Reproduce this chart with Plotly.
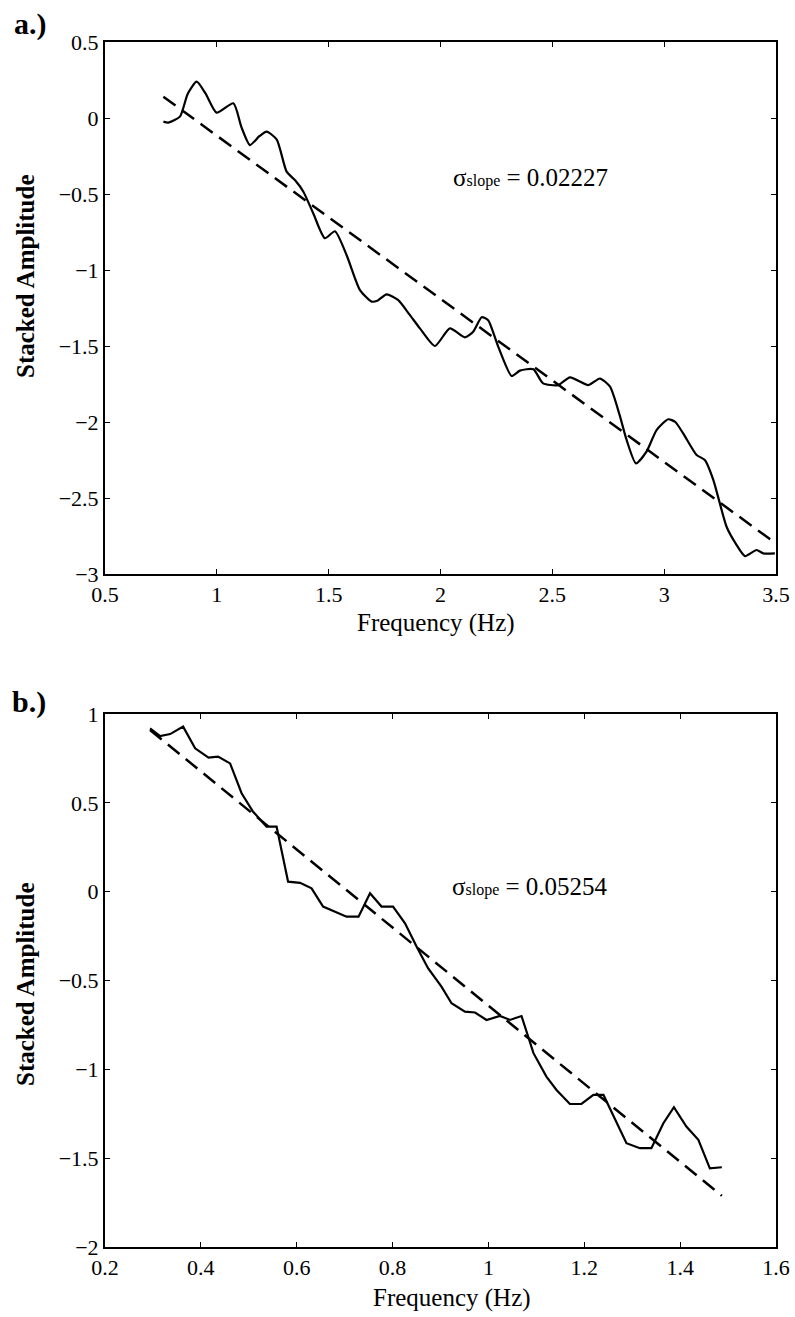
import plotly.graph_objects as go

# ---- Panel a data ----
a_freq = [0.761, 0.783, 0.835, 0.87, 0.91, 0.95, 0.999, 1.074, 1.11, 1.148, 1.19, 1.223, 1.268,
          1.312, 1.35, 1.387, 1.431, 1.483, 1.528, 1.58, 1.64, 1.692, 1.72, 1.759, 1.81, 1.86,
          1.908, 1.975, 2.042, 2.109, 2.146, 2.184, 2.213, 2.258, 2.318, 2.355, 2.415, 2.459,
          2.526, 2.579, 2.661, 2.713, 2.758, 2.8, 2.832, 2.874, 2.921, 2.966, 3.018, 3.05, 3.085,
          3.145, 3.182, 3.22, 3.279, 3.32, 3.361, 3.413, 3.443, 3.495]
a_amp = [-0.024, -0.03, 0.009, 0.16, 0.239, 0.16, 0.035, 0.097, -0.06, -0.178, -0.12, -0.09, -0.142,
         -0.353, -0.41, -0.485, -0.627, -0.791, -0.745, -0.901, -1.132, -1.208, -1.2, -1.16, -1.197, -1.29,
         -1.384, -1.5, -1.384, -1.443, -1.407, -1.311, -1.33, -1.504, -1.697, -1.662, -1.653, -1.746,
         -1.757, -1.706, -1.757, -1.714, -1.768, -1.95, -2.118, -2.272, -2.195, -2.053, -1.982, -2.0, -2.075,
         -2.217, -2.25, -2.382, -2.689, -2.8, -2.882, -2.842, -2.864, -2.864]
a_fit_x = [0.761, 3.495]
a_fit_y = [0.14, -2.794]
a_label = "σ<span style='font-size:16px'>slope</span> = 0.02227"

# ---- Panel b data ----
b_freq = [0.294, 0.315, 0.336, 0.363, 0.388, 0.416, 0.436, 0.461, 0.485, 0.509, 0.537, 0.558,
          0.582, 0.607, 0.631, 0.655, 0.704, 0.729, 0.753, 0.777, 0.801, 0.826, 0.85, 0.874,
          0.902, 0.923, 0.951, 0.972, 0.996, 1.024, 1.045, 1.069, 1.094, 1.121, 1.142, 1.17,
          1.194, 1.219, 1.24, 1.264, 1.288, 1.316, 1.34, 1.365, 1.387, 1.413, 1.438, 1.462, 1.487]
b_amp = [0.919, 0.876, 0.887, 0.929, 0.807, 0.754, 0.76, 0.722, 0.554, 0.45, 0.366, 0.366,
         0.056, 0.05, 0.019, -0.084, -0.141, -0.141, -0.009, -0.084, -0.084, -0.178, -0.309, -0.431,
         -0.535, -0.628, -0.675, -0.68, -0.722, -0.7, -0.722, -0.7, -0.909, -1.041, -1.116, -1.195,
         -1.195, -1.144, -1.144, -1.285, -1.416, -1.444, -1.444, -1.303, -1.213, -1.322, -1.397, -1.557, -1.551]
b_fit_x = [0.294, 1.487]
b_fit_y = [0.91, -1.712]
b_label = "σ<span style='font-size:16px'>slope</span> = 0.05254"

a_xticks = [0.5, 1, 1.5, 2, 2.5, 3, 3.5]
a_yticks = [0.5, 0, -0.5, -1, -1.5, -2, -2.5, -3]
b_xticks = [0.2, 0.4, 0.6, 0.8, 1, 1.2, 1.4, 1.6]
b_yticks = [1, 0.5, 0, -0.5, -1, -1.5, -2]

SERIF = "Liberation Serif"
W, H = 795, 1317

fig = go.Figure()
fig.add_trace(go.Scatter(x=a_freq, y=a_amp, mode="lines",
                         line=dict(color="black", width=2.2, shape="spline", smoothing=0.6),
                         xaxis="x", yaxis="y", showlegend=False))
fig.add_trace(go.Scatter(x=a_fit_x, y=a_fit_y, mode="lines",
                         line=dict(color="black", width=2.5, dash="15px,8px"),
                         xaxis="x", yaxis="y", showlegend=False))
fig.add_trace(go.Scatter(x=b_freq, y=b_amp, mode="lines", line=dict(color="black", width=2.2),
                         xaxis="x2", yaxis="y2", showlegend=False))
fig.add_trace(go.Scatter(x=b_fit_x, y=b_fit_y, mode="lines",
                         line=dict(color="black", width=2.5, dash="15px,8px"),
                         xaxis="x2", yaxis="y2", showlegend=False))

def fmt(v):
    return ("%g" % v).replace("-", "\u2212")

xdom = [105 / W, 776 / W]
ya_dom = [(H - 574) / H, (H - 42) / H]
yb_dom = [(H - 1247) / H, (H - 714) / H]

axis_common = dict(showgrid=False, zeroline=False, showline=True, linecolor="black", linewidth=2,
                   mirror="ticks", ticks="inside", ticklen=5, tickwidth=1, tickcolor="black",
                   automargin=False,
                   tickfont=dict(family=SERIF, size=22, color="black"))

fig.update_layout(
    width=W, height=H, paper_bgcolor="white", plot_bgcolor="white",
    margin=dict(l=0, r=0, t=0, b=0, pad=0, autoexpand=False),
    showlegend=False,
    xaxis=dict(domain=xdom, range=[0.5, 3.5], anchor="y", tickvals=a_xticks,
               ticktext=[fmt(v) for v in a_xticks], **axis_common),
    yaxis=dict(domain=ya_dom, range=[-3, 0.5], anchor="x", tickvals=a_yticks,
               ticktext=[fmt(v) for v in a_yticks], **axis_common),
    xaxis2=dict(domain=xdom, range=[0.2, 1.6], anchor="y2", tickvals=b_xticks,
                ticktext=[fmt(v) for v in b_xticks], **axis_common),
    yaxis2=dict(domain=yb_dom, range=[-2, 1], anchor="x2", tickvals=b_yticks,
                ticktext=[fmt(v) for v in b_yticks], **axis_common),
)

ann = []
ann.append(dict(text="<b>a.)</b>", x=12 / W, y=1 - 24 / H, xref="paper", yref="paper",
                xanchor="left", yanchor="middle", showarrow=False,
                font=dict(family=SERIF, size=30, color="black")))
ann.append(dict(text="<b>b.)</b>", x=10 / W, y=1 - 702 / H, xref="paper", yref="paper",
                xanchor="left", yanchor="middle", showarrow=False,
                font=dict(family=SERIF, size=30, color="black")))
for yc in (276, 984):
    ann.append(dict(text="<b>Stacked Amplitude</b>", x=25 / W, y=1 - yc / H, xref="paper",
                    yref="paper", textangle=-90, showarrow=False, xanchor="center",
                    yanchor="middle", font=dict(family=SERIF, size=25, color="black")))
for xc, yc in ((436, 623), (452, 1298)):
    ann.append(dict(text="Frequency (Hz)", x=xc / W, y=1 - yc / H, xref="paper", yref="paper",
                    showarrow=False, xanchor="center", yanchor="middle",
                    font=dict(family=SERIF, size=25, color="black")))
ann.append(dict(text=a_label, x=2.404, y=-0.39, xref="x", yref="y", showarrow=False,
                font=dict(family=SERIF, size=25, color="black")))
ann.append(dict(text=b_label, x=1.086, y=0.03, xref="x2", yref="y2", showarrow=False,
                font=dict(family=SERIF, size=25, color="black")))
fig.update_layout(annotations=ann)

fig.write_html("out.html", config={"displayModeBar": False},
               post_script="document.body.style.margin='0';document.body.style.overflow='hidden';")
